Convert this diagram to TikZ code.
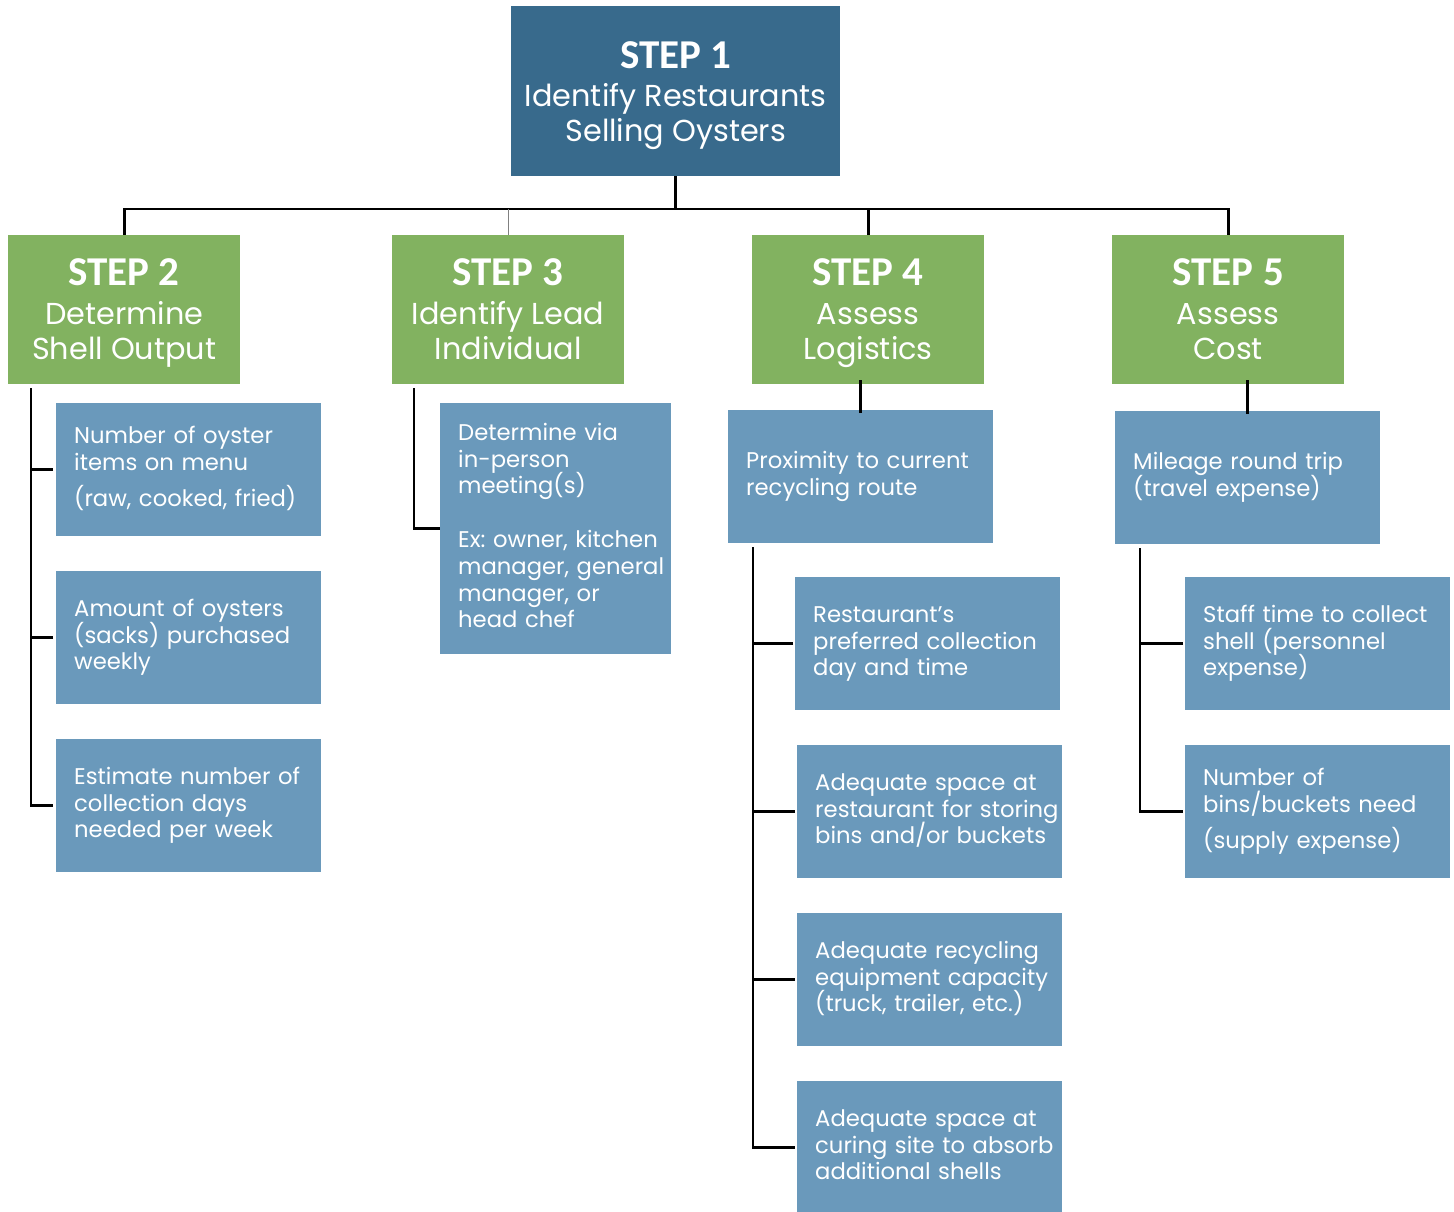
\documentclass[tikz,border=0pt]{standalone}
\usepackage{fontspec}
\usepackage{array}
\setmainfont{Poppins}
\newfontfamily\stepfont{Carlito}
\frenchspacing
\definecolor{darkblue}{HTML}{386A8C}
\definecolor{stepgreen}{HTML}{82B260}
\definecolor{lightblue}{HTML}{6A99BB}
\newcommand{\steplabel}[1]{{\stepfont\bfseries\fontsize{41}{44}\selectfont STEP #1}}
\newcolumntype{Z}{@{}>{\setbox0\hbox\bgroup}l<{\egroup\ht0=0pt\dp0=0pt\box0}@{}}
\newcommand{\boxlines}[1]{\begin{tabular}{Z}#1\end{tabular}}
\begin{document}
\begin{tikzpicture}[x=1pt,y=-1pt,
  topbox/.style={draw=none,fill=darkblue,text=white,inner sep=0pt,minimum width=329pt,minimum height=170pt,align=center,anchor=north west,font=\fontsize{30.3}{35}\selectfont},
  greenbox/.style={draw=none,fill=stepgreen,text=white,inner sep=0pt,minimum width=232pt,minimum height=149pt,align=center,anchor=north west,font=\fontsize{30.3}{35}\selectfont},
  bluebox/.style={draw=none,fill=lightblue,text=white,inner xsep=18pt,inner ysep=0pt,text width=229pt,minimum height=133pt,align=left,anchor=north west,font=\fontsize{22.7}{26.8}\selectfont},
  conn/.style={draw=black,line width=2.6pt},
  thinconn/.style={draw=gray,line width=0.9pt}]
\useasboundingbox (0,0) rectangle (1454,1211);
\begin{scope}
\clip (0,0) rectangle (1454,1211);
% top
\node[topbox] (s1) at (511,6) {\rule{0pt}{37.5pt}\steplabel{1}\\[3pt]\strut Identify Restaurants\\\strut Selling Oysters};
% steps
\node[greenbox] (s2) at (8,235) {\rule{0pt}{36pt}\steplabel{2}\\[4pt]\strut Determine\\\strut Shell Output};
\node[greenbox] (s3) at (392,235) {\rule{0pt}{36pt}\steplabel{3}\\[4pt]\strut Identify Lead\\\strut Individual};
\node[greenbox] (s4) at (752,235) {\rule{0pt}{36pt}\steplabel{4}\\[4pt]\strut Assess\\\strut Logistics};
\node[greenbox] (s5) at (1112,235) {\rule{0pt}{36pt}\steplabel{5}\\[4pt]\strut Assess\\\strut Cost};
% step 2 children
\node[bluebox] (a1) at (56,403) {\boxlines{Number of oyster\\items on menu\\[10pt](raw, cooked, fried)}};
\node[bluebox] (a2) at (56,571) {\boxlines{Amount of oysters\\(sacks) purchased\\weekly}};
\node[bluebox] (a3) at (56,739) {\boxlines{Estimate number of\\collection days\\needed per week}};
% step 3 child
\node[bluebox,text width=195pt,minimum height=251pt] (t1) at (440,403) {\boxlines{Determine via\\in-person\\meeting(s)\\ \\Ex: owner, kitchen\\manager, general\\manager, or\\head chef}};
% step 4 children
\node[bluebox] (p1) at (728,410) {\boxlines{Proximity to current\\recycling route}};
\node[bluebox] (q1) at (795,577) {\boxlines{Restaurant's\\preferred collection\\day and time}};
\node[bluebox] (q2) at (797,745) {\boxlines{Adequate space at\\restaurant for storing\\bins and/or buckets}};
\node[bluebox] (q3) at (797,913) {\boxlines{Adequate recycling\\equipment capacity\\(truck, trailer, etc.)}};
\node[bluebox] (q4) at (797,1081) {\boxlines{Adequate space at\\curing site to absorb\\additional shells}};
% step 5 children
\node[bluebox] (m1) at (1115,411) {\boxlines{Mileage round trip\\(travel expense)}};
\node[bluebox] (r1) at (1185,577) {\boxlines{Staff time to collect\\shell (personnel\\expense)}};
\node[bluebox] (r2) at (1185,745) {\boxlines{Number of\\bins/buckets need\\[10pt](supply expense)}};
\end{scope}
% connectors top
\coordinate (busy) at (0,209);
\draw[conn] (s1.south) -- (s1.south |- busy);
\draw[conn] (s2.north) -- (s2.north |- busy) -- (s5.north |- busy) -- (s5.north);
\draw[conn] (s4.north) -- (s4.north |- busy);
\draw[thinconn] (s3.north) -- (s3.north |- busy);
% step 2
\draw[conn] (s2.south west) ++(23,4) |- ([xshift=-3pt]a3.west);
\draw[conn] ([xshift=-3pt]a1.west) -- ++(-22,0);
\draw[conn] ([xshift=-3pt]a2.west) -- ++(-22,0);
% step 3
\draw[conn] (s3.south west) ++(22,4) |- (t1.west);
% step 4
\draw[conn] ([yshift=-3pt]p1.north) -- ([yshift=4pt]p1.north |- s4.south);
\draw[conn] (p1.south west) ++(25,4) |- ([xshift=-2pt]q4.west);
\draw[conn] ([xshift=-2pt]q1.west) -- ++(-40,0);
\draw[conn] ([xshift=-2pt]q2.west) -- ++(-42,0);
\draw[conn] ([xshift=-2pt]q3.west) -- ++(-42,0);
% step 5
\draw[conn] ([yshift=-3pt]m1.north) -- ([yshift=4pt]m1.north |- s5.south);
\draw[conn] (m1.south west) ++(25,4) |- ([xshift=-2pt]r2.west);
\draw[conn] ([xshift=-2pt]r1.west) -- ++(-43,0);
\end{tikzpicture}
\end{document}
